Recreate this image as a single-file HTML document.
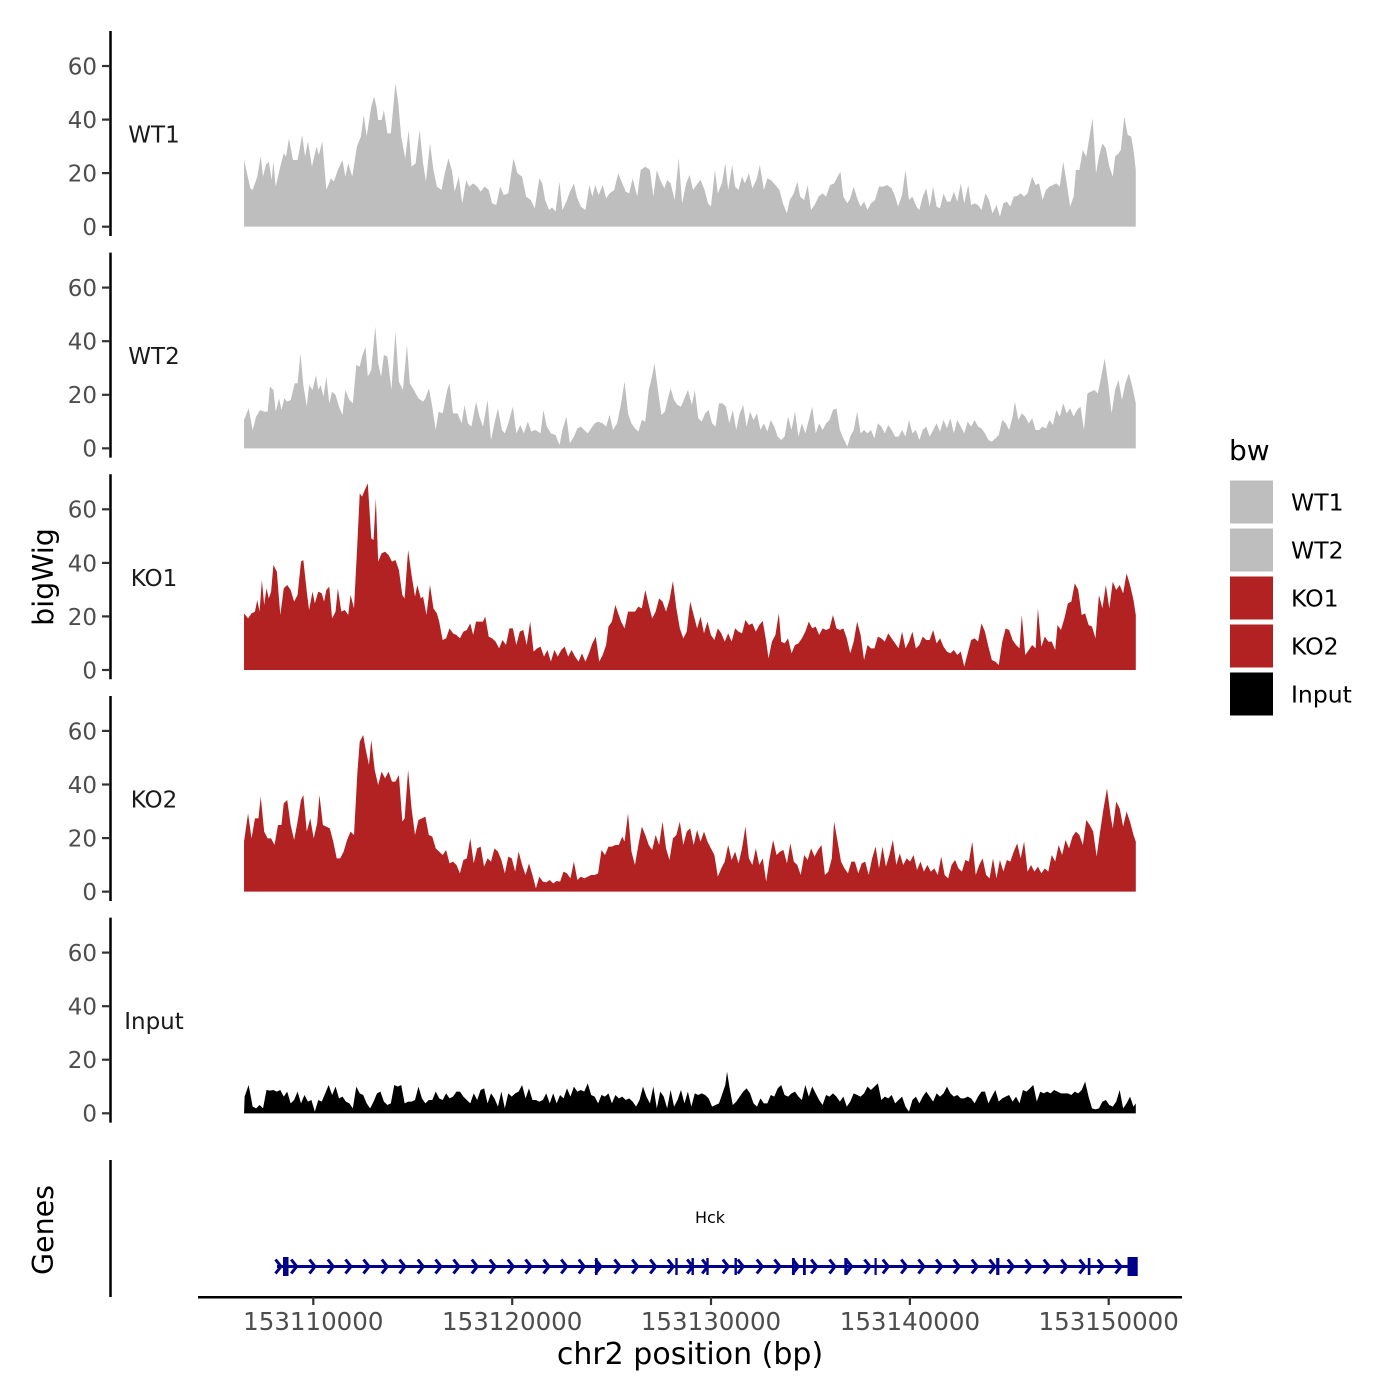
<!DOCTYPE html>
<html>
<head>
<meta charset="utf-8">
<style>
  html, body { margin: 0; padding: 0; background: #ffffff; }
  svg { display: block; }
  text { font-family: "DejaVu Sans", "Liberation Sans", sans-serif; }
</style>
</head>
<body>
<svg width="1400" height="1400" viewBox="0 0 1400 1400" xmlns="http://www.w3.org/2000/svg">
  <rect width="1400" height="1400" fill="#ffffff"/>

  <g transform="translate(240,70) scale(0.5757,0.33333)">
    <polygon fill="#BEBEBE" points="7,470 7,270 18,355 22,360 30,320 36,258 40,320 45,285 50,275 55,330 58,275 62,350 70,290 76,250 80,260 85,205 92,270 100,270 108,195 113,260 118,215 125,290 133,230 137,255 143,215 150,360 158,325 163,335 170,300 178,270 183,320 188,280 195,320 203,230 210,200 215,135 220,200 228,110 233,80 237,110 240,150 246,150 250,120 256,190 262,190 270,40 275,100 280,200 287,265 293,180 298,290 305,280 312,180 318,280 323,335 330,220 336,300 342,350 350,360 355,315 362,265 368,300 373,365 380,320 386,400 393,330 398,350 405,340 412,350 418,365 425,350 432,360 438,400 445,405 452,350 458,375 466,370 475,265 482,310 490,320 497,380 505,390 512,415 520,325 525,340 530,390 537,420 542,412 548,425 555,335 560,420 567,395 572,370 580,340 585,380 592,410 600,420 607,345 612,380 617,345 623,375 630,345 636,385 642,370 650,360 657,310 664,340 670,365 676,370 682,325 690,380 696,300 704,290 712,300 718,380 724,300 730,330 737,355 742,330 748,340 755,390 762,265 768,400 775,340 781,315 787,360 793,345 800,330 807,360 813,400 818,410 825,300 830,370 837,340 843,280 848,360 855,285 860,350 866,360 872,320 877,340 884,310 890,355 897,330 903,285 910,360 916,325 922,330 930,345 937,360 943,400 950,430 955,390 962,370 968,335 973,380 980,390 986,345 992,420 998,405 1005,380 1012,370 1018,380 1025,345 1032,340 1038,320 1043,305 1048,380 1055,400 1060,385 1066,350 1072,385 1078,410 1084,395 1090,420 1096,400 1103,390 1110,350 1117,350 1124,345 1132,355 1138,380 1143,410 1150,375 1156,300 1162,390 1168,380 1175,410 1180,420 1186,380 1192,355 1198,410 1204,350 1210,410 1216,415 1222,370 1228,395 1234,395 1240,365 1246,395 1252,340 1258,400 1265,345 1270,405 1276,400 1282,405 1288,420 1295,370 1301,390 1307,430 1314,405 1320,440 1326,400 1332,395 1338,410 1344,380 1350,378 1356,370 1362,380 1368,370 1376,320 1382,345 1388,340 1394,390 1400,360 1406,350 1412,345 1418,340 1424,350 1430,275 1436,340 1442,410 1448,380 1452,300 1458,300 1464,240 1470,260 1476,195 1481,145 1487,310 1492,260 1498,220 1504,235 1510,290 1516,320 1520,260 1526,250 1530,240 1536,140 1542,195 1548,200 1552,240 1556,300 1556,470"/>
  </g>

  <g transform="translate(240,70) scale(0.5757,0.33333)">
    <polygon fill="#BEBEBE" points="7,1135 7,1050 15,1015 22,1080 28,1040 35,1020 42,1025 48,1025 52,950 58,960 62,1025 68,985 72,1020 77,985 82,995 88,990 95,940 100,940 105,850 110,945 116,1010 120,945 126,960 132,915 136,960 140,945 145,980 150,920 155,1000 160,965 166,975 172,1010 178,1035 183,960 190,990 196,1000 202,885 208,890 212,860 218,830 222,920 228,900 235,770 240,880 245,920 250,855 256,860 263,960 270,785 276,935 283,960 290,825 295,940 302,960 310,985 318,995 322,985 328,955 333,1000 340,1080 345,1025 352,1030 360,960 364,940 370,1030 378,1030 385,1060 390,1005 396,1060 402,1070 410,995 416,1040 422,1070 430,990 436,1110 442,1060 448,1015 455,1080 460,1090 466,1060 474,1010 480,1090 487,1065 493,1090 500,1055 506,1085 512,1080 518,1085 522,1090 527,1020 533,1070 540,1090 548,1095 555,1125 560,1080 567,1040 573,1120 580,1100 586,1075 592,1070 598,1080 604,1090 610,1075 616,1060 622,1055 630,1060 636,1070 642,1035 648,1080 655,1060 662,1000 668,935 674,1030 680,1060 686,1075 692,1085 698,1050 704,1055 710,960 715,925 720,880 726,960 732,1035 738,1025 744,980 748,955 754,990 760,1005 766,1010 772,985 778,960 785,1005 790,960 796,1045 802,1055 808,1030 814,1020 820,1060 826,1070 832,1000 838,1000 844,1010 850,1060 856,1020 862,1080 868,1030 874,1005 880,1070 886,1025 892,1050 898,1030 904,1080 910,1060 916,1085 922,1050 928,1070 934,1100 940,1110 946,1100 952,1040 958,1080 964,1025 970,1100 976,1060 982,1090 988,1050 994,1010 1000,1090 1006,1060 1012,1080 1018,1060 1024,1050 1030,1020 1036,1015 1042,1080 1048,1105 1055,1130 1060,1100 1066,1080 1072,1025 1078,1090 1084,1080 1090,1090 1096,1080 1102,1105 1108,1060 1114,1070 1120,1090 1126,1065 1132,1080 1138,1100 1144,1100 1150,1080 1156,1100 1162,1050 1168,1090 1174,1080 1180,1110 1186,1080 1192,1070 1198,1100 1204,1080 1210,1060 1216,1085 1222,1050 1228,1075 1234,1045 1240,1090 1246,1050 1252,1070 1258,1090 1264,1055 1270,1070 1276,1050 1282,1070 1288,1075 1294,1090 1300,1110 1306,1115 1312,1105 1318,1095 1324,1050 1330,1060 1336,1080 1342,1040 1346,995 1352,1050 1358,1030 1364,1040 1370,1060 1376,1045 1382,1080 1388,1080 1394,1070 1400,1075 1406,1050 1412,1065 1418,1020 1424,1040 1430,1000 1436,1030 1442,1015 1448,1040 1454,1020 1460,1010 1466,1080 1472,970 1478,965 1484,960 1490,970 1496,920 1502,865 1508,940 1514,1030 1520,960 1526,930 1532,990 1538,940 1544,910 1550,950 1556,1000 1556,1135"/>
  </g>

  <g transform="translate(240,475) scale(0.5757,0.33333)">
    <polygon fill="#B22222" points="7,585 7,415 14,430 20,415 26,410 30,375 34,410 38,315 42,390 46,340 50,370 54,350 58,270 64,290 70,420 76,340 82,330 88,345 94,380 100,360 106,260 110,255 116,350 120,405 126,350 130,385 136,350 142,355 146,380 150,345 155,335 160,430 166,410 170,340 176,410 182,405 188,420 192,360 198,400 204,200 208,55 212,65 218,40 222,25 228,190 232,195 236,70 240,260 246,235 252,230 258,240 264,260 270,255 276,285 282,360 286,370 292,225 298,300 304,365 308,330 314,370 318,365 324,420 330,330 336,400 342,415 346,440 352,495 358,490 364,460 370,475 376,480 382,490 388,470 394,465 400,445 405,480 410,440 416,440 422,440 426,425 432,485 438,490 444,500 450,520 456,495 462,510 468,460 474,460 480,510 486,470 492,465 498,510 504,440 510,530 516,520 522,515 528,545 534,525 540,560 546,525 552,545 558,525 564,515 570,545 576,525 582,545 588,560 594,535 600,560 606,535 612,505 618,485 624,560 630,540 636,510 640,455 646,440 652,390 658,420 662,440 668,460 674,410 680,410 686,410 692,395 698,400 704,345 710,390 716,430 722,410 728,370 734,380 740,410 746,375 752,318 758,400 764,460 770,490 776,470 782,380 788,420 794,460 800,425 806,475 812,440 818,480 824,495 830,460 836,475 842,500 848,475 854,500 860,460 866,470 872,475 878,435 884,450 890,445 896,470 902,450 908,438 914,500 918,550 924,500 930,480 936,415 940,500 946,505 952,490 958,535 964,510 970,505 976,490 982,470 988,440 994,460 1000,455 1006,480 1012,460 1018,465 1024,460 1030,420 1036,460 1042,465 1048,460 1054,490 1060,535 1066,500 1072,440 1078,480 1084,555 1090,510 1096,520 1102,520 1108,485 1114,490 1120,500 1126,475 1132,490 1138,505 1144,520 1150,470 1156,520 1162,500 1168,470 1174,520 1180,510 1186,485 1192,495 1198,495 1204,465 1210,505 1216,490 1222,515 1228,530 1234,535 1240,525 1246,540 1252,530 1258,575 1264,535 1270,495 1276,490 1282,500 1288,445 1294,470 1300,515 1306,555 1312,560 1318,570 1324,500 1330,460 1336,465 1342,495 1348,510 1354,520 1358,420 1364,540 1370,525 1376,510 1382,520 1386,400 1392,515 1398,485 1404,500 1410,500 1416,525 1420,450 1426,465 1432,430 1438,385 1444,380 1450,325 1456,345 1462,420 1468,415 1474,450 1480,455 1486,490 1492,360 1498,400 1504,330 1510,400 1516,320 1522,345 1528,330 1534,355 1540,295 1546,330 1552,375 1556,420 1556,585"/>
  </g>

  <g transform="translate(240,475) scale(0.5757,0.33333)">
    <polygon fill="#B22222" points="7,1250 7,1100 14,1015 20,1090 26,1030 32,1030 36,965 42,1070 48,1090 54,1090 60,1110 66,1050 72,1050 76,985 82,975 88,1050 94,1095 100,1040 106,975 110,960 116,1070 122,1030 128,1090 134,1045 138,960 144,1050 150,1055 156,1060 162,1100 168,1150 174,1150 180,1130 186,1095 192,1070 198,1080 204,890 208,800 214,780 218,820 224,870 228,795 234,885 240,930 246,890 252,910 258,890 264,920 270,920 276,900 282,1040 286,1030 292,885 298,1000 304,1080 310,1035 316,1030 322,1025 328,1080 334,1085 340,1120 346,1130 352,1140 358,1125 364,1165 370,1160 376,1170 382,1195 388,1155 394,1150 400,1090 406,1165 412,1120 418,1115 424,1175 430,1150 436,1160 442,1120 448,1130 454,1155 460,1195 466,1145 472,1150 478,1190 484,1130 490,1170 496,1200 502,1165 508,1200 514,1240 520,1205 526,1220 532,1222 538,1215 544,1225 550,1218 556,1220 562,1190 568,1195 574,1210 580,1160 586,1215 592,1205 598,1210 604,1205 610,1200 616,1200 622,1195 628,1125 634,1140 640,1115 646,1115 652,1110 658,1110 664,1085 668,1100 674,1015 680,1130 686,1170 692,1110 698,1055 704,1080 710,1110 716,1125 722,1080 728,1110 734,1040 740,1120 746,1155 752,1090 758,1080 764,1040 770,1110 776,1070 782,1060 788,1110 794,1065 800,1100 806,1070 812,1100 818,1120 824,1140 830,1205 836,1180 842,1160 848,1110 854,1155 860,1130 866,1165 872,1120 878,1055 884,1150 890,1170 896,1120 902,1170 908,1150 914,1220 920,1150 926,1095 932,1140 938,1130 944,1125 950,1165 956,1105 962,1160 968,1170 974,1200 980,1140 986,1155 992,1120 998,1145 1004,1125 1010,1110 1016,1200 1022,1190 1028,1150 1032,1040 1038,1100 1044,1160 1050,1180 1056,1195 1062,1160 1068,1160 1074,1195 1080,1165 1086,1160 1092,1200 1098,1150 1104,1115 1110,1180 1116,1115 1122,1175 1128,1140 1134,1095 1140,1170 1146,1135 1152,1170 1158,1150 1164,1160 1170,1140 1176,1185 1182,1160 1188,1190 1194,1170 1200,1190 1206,1180 1212,1200 1218,1145 1224,1200 1230,1210 1236,1170 1242,1155 1248,1180 1254,1190 1260,1155 1266,1160 1272,1100 1278,1200 1284,1170 1290,1150 1296,1200 1302,1210 1308,1150 1314,1210 1320,1155 1326,1190 1332,1155 1338,1160 1344,1130 1350,1105 1356,1150 1362,1100 1368,1190 1374,1170 1380,1190 1386,1175 1392,1195 1398,1180 1404,1190 1410,1140 1416,1160 1422,1110 1428,1140 1434,1095 1440,1120 1446,1085 1452,1070 1458,1080 1464,1110 1470,1035 1476,1050 1482,1070 1488,1145 1494,1070 1500,1000 1506,940 1512,1020 1516,1060 1522,980 1528,1000 1534,1055 1540,1010 1546,1040 1552,1080 1556,1100 1556,1250"/>
  </g>

  <g transform="translate(240,1060) scale(0.5757,0.33333)">
    <polygon fill="#000000" points="7,160 8,110 15,75 22,140 28,145 34,135 40,145 46,90 52,92 58,90 64,95 70,90 76,110 82,95 88,130 94,120 100,95 106,130 112,105 118,125 124,120 130,155 136,120 142,125 148,100 154,75 160,105 166,80 172,115 178,110 184,125 190,130 196,145 202,80 208,100 214,105 220,130 226,145 232,125 238,100 244,95 250,125 256,135 262,130 268,75 274,80 280,75 286,130 292,125 298,125 304,120 310,80 316,115 322,130 328,120 334,120 340,95 346,115 352,120 358,100 364,115 370,110 376,95 382,95 388,110 394,120 400,130 406,100 412,120 418,90 424,85 430,130 436,100 442,115 448,140 454,95 460,145 466,100 472,110 478,100 484,95 490,75 496,115 502,85 508,120 514,120 520,125 526,120 532,100 538,130 544,100 550,130 556,105 562,115 568,85 574,110 580,80 586,95 592,90 598,95 604,70 610,105 616,110 622,130 628,105 634,110 640,100 646,130 652,105 658,115 664,110 670,120 676,115 682,125 688,140 694,120 700,80 706,110 712,130 718,80 724,145 730,95 736,110 742,145 748,90 754,140 760,120 766,90 772,130 778,95 784,140 790,100 796,105 802,100 808,105 814,115 820,140 826,135 832,130 838,100 843,75 846,35 850,80 856,135 862,125 868,110 874,95 880,85 886,100 892,130 898,140 904,115 910,130 916,130 922,105 928,110 934,85 940,75 946,105 952,110 958,100 964,95 970,110 976,120 982,75 988,110 994,80 1000,100 1006,120 1012,135 1018,105 1024,110 1030,100 1036,110 1042,125 1048,110 1054,140 1060,125 1066,100 1072,105 1078,110 1084,100 1090,80 1096,90 1102,80 1108,70 1114,120 1120,110 1126,115 1132,105 1138,130 1144,120 1150,110 1156,140 1162,155 1168,120 1174,110 1180,130 1186,110 1192,95 1198,110 1204,125 1210,100 1216,110 1222,100 1228,80 1234,100 1240,110 1246,105 1252,115 1258,115 1264,110 1270,115 1276,130 1282,110 1288,95 1294,95 1300,130 1306,110 1312,90 1318,125 1324,115 1330,110 1336,105 1342,125 1348,110 1354,130 1360,90 1366,95 1372,85 1378,75 1384,125 1390,95 1396,100 1402,95 1408,100 1414,90 1420,95 1426,100 1432,100 1438,100 1444,105 1450,95 1456,100 1462,90 1468,65 1474,110 1480,145 1486,148 1492,145 1498,125 1504,120 1510,135 1516,140 1522,125 1528,90 1534,145 1540,130 1546,110 1552,140 1556,130 1556,160"/>
  </g>

  <g stroke="#000" stroke-width="2.5">
    <line x1="110.5" y1="31" x2="110.5" y2="236"/>
    <line x1="110.5" y1="252.6" x2="110.5" y2="457.6"/>
    <line x1="110.5" y1="474.3" x2="110.5" y2="679.3"/>
    <line x1="110.5" y1="696" x2="110.5" y2="901"/>
    <line x1="110.5" y1="917.6" x2="110.5" y2="1122.6"/>
    <line x1="110.5" y1="1160" x2="110.5" y2="1297"/>
  </g>

  <g stroke="#333" stroke-width="2.2">
    <line x1="102" y1="226.7" x2="110" y2="226.7"/><line x1="102" y1="173.1" x2="110" y2="173.1"/><line x1="102" y1="119.6" x2="110" y2="119.6"/><line x1="102" y1="66" x2="110" y2="66"/>
    <line x1="102" y1="448.35" x2="110" y2="448.35"/><line x1="102" y1="394.8" x2="110" y2="394.8"/><line x1="102" y1="341.2" x2="110" y2="341.2"/><line x1="102" y1="287.6" x2="110" y2="287.6"/>
    <line x1="102" y1="670" x2="110" y2="670"/><line x1="102" y1="616.4" x2="110" y2="616.4"/><line x1="102" y1="562.9" x2="110" y2="562.9"/><line x1="102" y1="509.3" x2="110" y2="509.3"/>
    <line x1="102" y1="891.65" x2="110" y2="891.65"/><line x1="102" y1="838.1" x2="110" y2="838.1"/><line x1="102" y1="784.5" x2="110" y2="784.5"/><line x1="102" y1="730.9" x2="110" y2="730.9"/>
    <line x1="102" y1="1113.3" x2="110" y2="1113.3"/><line x1="102" y1="1059.7" x2="110" y2="1059.7"/><line x1="102" y1="1006.2" x2="110" y2="1006.2"/><line x1="102" y1="952.6" x2="110" y2="952.6"/>
  </g>

  <g font-size="23" fill="#4D4D4D" text-anchor="end">
    <text x="97" y="235">0</text><text x="97" y="181.5">20</text><text x="97" y="128">40</text><text x="97" y="74.5">60</text>
    <text x="97" y="456.7">0</text><text x="97" y="403.2">20</text><text x="97" y="349.6">40</text><text x="97" y="296">60</text>
    <text x="97" y="678.4">0</text><text x="97" y="624.8">20</text><text x="97" y="571.3">40</text><text x="97" y="517.7">60</text>
    <text x="97" y="900">0</text><text x="97" y="846.5">20</text><text x="97" y="792.9">40</text><text x="97" y="739.3">60</text>
    <text x="97" y="1121.7">0</text><text x="97" y="1068.1">20</text><text x="97" y="1014.6">40</text><text x="97" y="961">60</text>
  </g>

  <g font-size="23" fill="#1A1A1A" text-anchor="middle">
    <text x="154" y="142.5">WT1</text>
    <text x="154" y="364.1">WT2</text>
    <text x="154" y="585.8">KO1</text>
    <text x="154" y="807.4">KO2</text>
    <text x="154" y="1029.1">Input</text>
  </g>

  <text font-size="28.5" fill="#000" text-anchor="middle" transform="translate(53,577) rotate(-90)">bigWig</text>
  <text font-size="28.5" fill="#000" text-anchor="middle" transform="translate(53,1230) rotate(-90)">Genes</text>
  <text font-size="30" fill="#000" text-anchor="middle" x="690" y="1364">chr2 position (bp)</text>

  <line x1="198" y1="1297.3" x2="1182" y2="1297.3" stroke="#000" stroke-width="2.5"/>
  <g stroke="#333" stroke-width="2.2">
    <line x1="313.3" y1="1297" x2="313.3" y2="1305"/>
    <line x1="512.2" y1="1297" x2="512.2" y2="1305"/>
    <line x1="711" y1="1297" x2="711" y2="1305"/>
    <line x1="909.9" y1="1297" x2="909.9" y2="1305"/>
    <line x1="1108.7" y1="1297" x2="1108.7" y2="1305"/>
  </g>
  <g font-size="24.5" fill="#4D4D4D" text-anchor="middle">
    <text x="313.3" y="1330">153110000</text>
    <text x="512.2" y="1330">153120000</text>
    <text x="711" y="1330">153130000</text>
    <text x="909.9" y="1330">153140000</text>
    <text x="1108.7" y="1330">153150000</text>
  </g>

  <text x="710" y="1223" font-size="16" fill="#000" text-anchor="middle">Hck</text>
  <line x1="277" y1="1266.5" x2="1133" y2="1266.5" stroke="#00008B" stroke-width="3"/>
  <path fill="none" stroke="#00008B" stroke-width="3" stroke-linejoin="miter" d="M275.5,1259.5 L281,1266.5 L275.5,1273.5 M291.2,1259.5 L296.7,1266.5 L291.2,1273.5 M309.5,1259.5 L315,1266.5 L309.5,1273.5 M327.8,1259.5 L333.3,1266.5 L327.8,1273.5 M345.5,1259.5 L351,1266.5 L345.5,1273.5 M363.5,1259.5 L369,1266.5 L363.5,1273.5 M381.8,1259.5 L387.3,1266.5 L381.8,1273.5 M399.5,1259.5 L405,1266.5 L399.5,1273.5 M417.8,1259.5 L423.3,1266.5 L417.8,1273.5 M435.5,1259.5 L441,1266.5 L435.5,1273.5 M453.5,1259.5 L459,1266.5 L453.5,1273.5 M471.8,1259.5 L477.3,1266.5 L471.8,1273.5 M489.8,1259.5 L495.3,1266.5 L489.8,1273.5 M507.8,1259.5 L513.3,1266.5 L507.8,1273.5 M525.5,1259.5 L531,1266.5 L525.5,1273.5 M543.5,1259.5 L549,1266.5 L543.5,1273.5 M561.2,1259.5 L566.7,1266.5 L561.2,1273.5 M578.8,1259.5 L584.3,1266.5 L578.8,1273.5 M595.5,1259.5 L601,1266.5 L595.5,1273.5 M614.5,1259.5 L620,1266.5 L614.5,1273.5 M632.2,1259.5 L637.7,1266.5 L632.2,1273.5 M650.2,1259.5 L655.7,1266.5 L650.2,1273.5 M667.8,1259.5 L673.3,1266.5 L667.8,1273.5 M687.2,1259.5 L692.7,1266.5 L687.2,1273.5 M702.2,1259.5 L707.7,1266.5 L702.2,1273.5 M722.8,1259.5 L728.3,1266.5 L722.8,1273.5 M737.8,1259.5 L743.3,1266.5 L737.8,1273.5 M756.8,1259.5 L762.3,1266.5 L756.8,1273.5 M774.5,1259.5 L780,1266.5 L774.5,1273.5 M792.8,1259.5 L798.3,1266.5 L792.8,1273.5 M811.2,1259.5 L816.7,1266.5 L811.2,1273.5 M829.5,1259.5 L835,1266.5 L829.5,1273.5 M846.2,1259.5 L851.7,1266.5 L846.2,1273.5 M864.5,1259.5 L870,1266.5 L864.5,1273.5 M882.8,1259.5 L888.3,1266.5 L882.8,1273.5 M901.2,1259.5 L906.7,1266.5 L901.2,1273.5 M918.5,1259.5 L924,1266.5 L918.5,1273.5 M936.2,1259.5 L941.7,1266.5 L936.2,1273.5 M953.8,1259.5 L959.3,1266.5 L953.8,1273.5 M971.8,1259.5 L977.3,1266.5 L971.8,1273.5 M989.5,1259.5 L995,1266.5 L989.5,1273.5 M1007.8,1259.5 L1013.3,1266.5 L1007.8,1273.5 M1025.5,1259.5 L1031,1266.5 L1025.5,1273.5 M1043.8,1259.5 L1049.3,1266.5 L1043.8,1273.5 M1061.2,1259.5 L1066.7,1266.5 L1061.2,1273.5 M1079.5,1259.5 L1085,1266.5 L1079.5,1273.5 M1097.8,1259.5 L1103.3,1266.5 L1097.8,1273.5 M1115.5,1259.5 L1121,1266.5 L1115.5,1273.5"/>
  <g fill="#00008B">
    <rect x="283" y="1257" width="5.5" height="19"/>
    <rect x="1127.5" y="1257" width="10.2" height="19"/>
    <rect x="595" y="1258" width="2.6" height="17"/>
    <rect x="675.3" y="1258" width="2.4" height="17"/>
    <rect x="691.5" y="1258" width="2.4" height="17"/>
    <rect x="706.3" y="1258" width="2.4" height="17"/>
    <rect x="734.5" y="1258" width="2.4" height="17"/>
    <rect x="792" y="1258" width="2.8" height="17"/>
    <rect x="803" y="1258" width="2.8" height="17"/>
    <rect x="844.3" y="1258" width="3.2" height="17"/>
    <rect x="874.5" y="1258" width="2.2" height="17"/>
    <rect x="996.2" y="1258" width="3.2" height="17"/>
    <rect x="1087.8" y="1258" width="2.6" height="17"/>
  </g>

  <text x="1229" y="460" font-size="28" fill="#000">bw</text>
  <rect x="1230" y="480.5" width="43" height="43" fill="#BEBEBE"/>
  <rect x="1230" y="528.5" width="43" height="43" fill="#BEBEBE"/>
  <rect x="1230" y="576.5" width="43" height="43" fill="#B22222"/>
  <rect x="1230" y="624.5" width="43" height="43" fill="#B22222"/>
  <rect x="1230" y="672.5" width="43" height="43" fill="#000000"/>
  <g font-size="23.5" fill="#000">
    <text x="1291" y="510.5">WT1</text>
    <text x="1291" y="558.5">WT2</text>
    <text x="1291" y="606.5">KO1</text>
    <text x="1291" y="654.5">KO2</text>
    <text x="1291" y="702.5">Input</text>
  </g>
</svg>
</body>
</html>
